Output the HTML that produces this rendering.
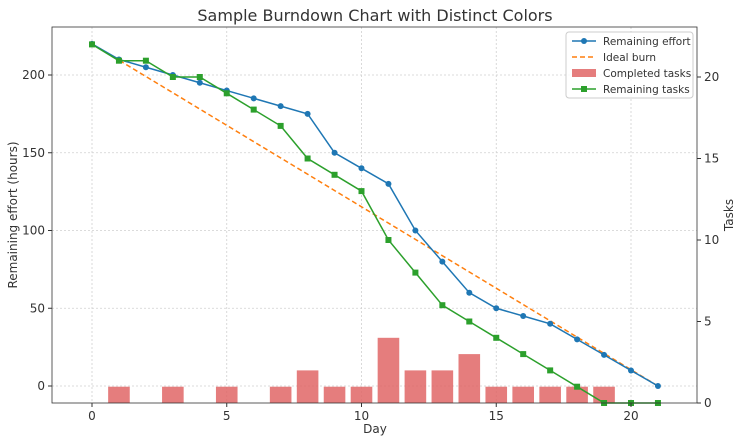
<!DOCTYPE html>
<html><head><meta charset="utf-8"><style>
body{margin:0;background:#fff;font-family:"Liberation Sans","DejaVu Sans",sans-serif;}
</style></head><body>
<svg id="chart" width="743" height="443" xmlns="http://www.w3.org/2000/svg" font-family="DejaVu Sans, Liberation Sans, sans-serif"></svg>
<script>
const days=[0,1,2,3,4,5,6,7,8,9,10,11,12,13,14,15,16,17,18,19,20,21];
const remainingEffort=[220,210,205,200,195,190,185,180,175,150,140,130,100,80,60,50,45,40,30,20,10,0];
const idealBurn=[220,0];
const completedTasks=[0,1,0,1,0,1,0,1,2,1,1,4,2,2,3,1,1,1,1,1,0,0];
const remainingTasks=[22,21,21,20,20,19,18,17,15,14,13,10,8,6,5,4,3,2,1,0,0,0];
const xTicks=[0,5,10,15,20];
const yTicks=[0,50,100,150,200];
const y2Ticks=[0,5,10,15,20];

const L=52,R=697,T=27,B=403;
const X=d=>92+(d)*26.95;
const Y=v=>386-v*1.555;
const Y2=v=>403-v*16.3;
const svg=document.getElementById('chart');
const NS='http://www.w3.org/2000/svg';
function mk(tag,attrs,parent){const e=document.createElementNS(NS,tag);for(const k in attrs)e.setAttribute(k,attrs[k]);(parent||svg).appendChild(e);return e;}
// grid
const grid=mk('g',{});
xTicks.forEach(t=>mk('line',{x1:X(t),x2:X(t),y1:T,y2:B,stroke:'#d0d0d0','stroke-dasharray':'2,2','stroke-width':0.8},grid));
yTicks.forEach(t=>mk('line',{x1:L,x2:R,y1:Y(t),y2:Y(t),stroke:'#d0d0d0','stroke-dasharray':'2,2','stroke-width':0.8},grid));
// bars
const bars=mk('g',{});
completedTasks.forEach((v,i)=>{if(v>0){const r=mk('rect',{x:X(days[i])-10.8,y:Y2(v),width:21.6,height:Y2(0)-Y2(v),fill:'#e06666','fill-opacity':0.85},bars);}});
// ideal
const ideal=mk('line',{x1:X(0),y1:Y(idealBurn[0]),x2:X(21),y2:Y(idealBurn[1]),stroke:'#ff7f0e','stroke-width':1.5,'stroke-dasharray':'5,3'});

// effort
const eff=mk('polyline',{points:days.map((d,i)=>X(d)+','+Y(remainingEffort[i])).join(' '),fill:'none',stroke:'#1f77b4','stroke-width':1.5});

days.forEach((d,i)=>{const c=mk('circle',{cx:X(d),cy:Y(remainingEffort[i]),r:3,fill:'#1f77b4'});});
// tasks
const tk=mk('polyline',{points:days.map((d,i)=>X(d)+','+Y2(remainingTasks[i])).join(' '),fill:'none',stroke:'#2ca02c','stroke-width':1.5});

days.forEach((d,i)=>{const c=mk('rect',{x:X(d)-3,y:Y2(remainingTasks[i])-3,width:6,height:6,fill:'#2ca02c'});});
// frame
const fr=mk('rect',{x:L,y:T,width:R-L,height:B-T,fill:'none',stroke:'#333','stroke-width':0.8});

// ticks
xTicks.forEach(t=>{mk('line',{x1:X(t),x2:X(t),y1:B,y2:B+4,stroke:'#333'});const e=mk('text',{x:X(t),y:B+17,'text-anchor':'middle','font-size':12,fill:'#333'});e.textContent=t;});
yTicks.forEach(t=>{mk('line',{x1:L-4,x2:L,y1:Y(t),y2:Y(t),stroke:'#333'});const e=mk('text',{x:L-7,y:Y(t)+4,'text-anchor':'end','font-size':12,fill:'#333'});e.textContent=t;});
y2Ticks.forEach(t=>{mk('line',{x1:R,x2:R+4,y1:Y2(t),y2:Y2(t),stroke:'#333'});const e=mk('text',{x:R+7,y:Y2(t)+4,'font-size':12,fill:'#333'});e.textContent=t;});
// titles
let e=mk('text',{x:375,y:21,'text-anchor':'middle','font-size':16,fill:'#333'});e.textContent='Sample Burndown Chart with Distinct Colors';
e=mk('text',{x:375,y:433,'text-anchor':'middle','font-size':12,fill:'#333'});e.textContent='Day';
e=mk('text',{x:0,y:0,'text-anchor':'middle','font-size':12,fill:'#333',transform:'translate(17,215) rotate(-90)'});e.textContent='Remaining effort (hours)';
e=mk('text',{x:0,y:0,'text-anchor':'middle','font-size':12,fill:'#333',transform:'translate(733,215) rotate(-90)'});e.textContent='Tasks';
// legend
const lg=mk('g',{});
mk('rect',{x:566,y:32,width:127,height:66,fill:'#fff','fill-opacity':0.85,stroke:'#ccc',rx:3},lg);
const items=[['Remaining effort','effort'],['Ideal burn','ideal'],['Completed tasks','bar'],['Remaining tasks','tasks']];
items.forEach((it,i)=>{const y=41+i*16;
 if(it[1]==='effort'){mk('line',{x1:572,x2:596,y1:y,y2:y,stroke:'#1f77b4','stroke-width':1.5},lg);mk('circle',{cx:584,cy:y,r:3,fill:'#1f77b4'},lg);}
 if(it[1]==='ideal'){mk('line',{x1:572,x2:596,y1:y,y2:y,stroke:'#ff7f0e','stroke-width':1.5,'stroke-dasharray':'5,3'},lg);}
 if(it[1]==='bar'){mk('rect',{x:572,y:y-4,width:24,height:8,fill:'#e06666','fill-opacity':0.85},lg);}
 if(it[1]==='tasks'){mk('line',{x1:572,x2:596,y1:y,y2:y,stroke:'#2ca02c','stroke-width':1.5},lg);mk('rect',{x:581,y:y-3,width:6,height:6,fill:'#2ca02c'},lg);}
 const t=mk('text',{x:603,y:y+4,'font-size':10.5,fill:'#333'},lg);t.textContent=it[0];
 
 
});
</script>
</body></html>
